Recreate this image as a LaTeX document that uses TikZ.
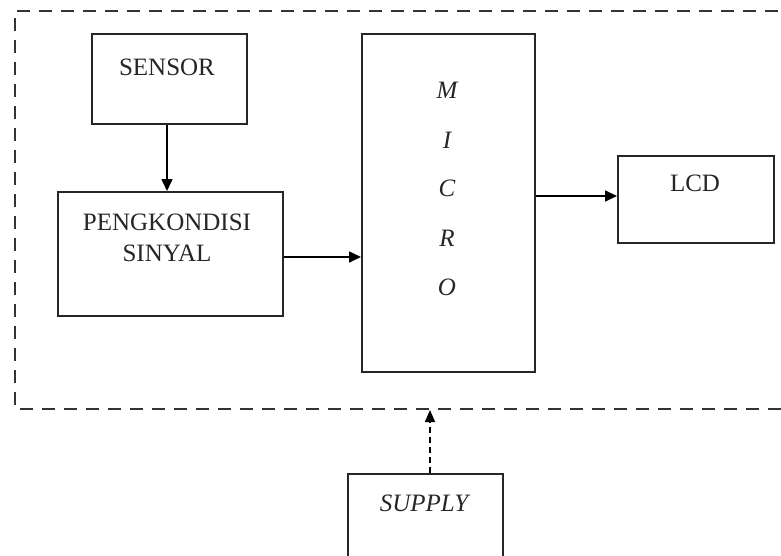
\documentclass[tikz,border=0pt]{standalone}
\usepackage{fontspec}
\setmainfont{Liberation Serif}
\usetikzlibrary{arrows.meta}
\begin{document}
\begin{tikzpicture}[x=1pt,y=-1pt,
  blk/.style={draw=black!85,line width=1.8pt,inner sep=0pt,anchor=north west},
  txt/.style={font=\fontsize{25}{30}\selectfont,inner sep=0pt,text=black!85},
  itxt/.style={font=\fontsize{25}{30}\selectfont\itshape,inner sep=0pt,text=black!85},
  conn/.style={draw=black,line width=1.6pt,-{Triangle[length=12pt,width=11pt]}},
  dconn/.style={draw=black,line width=1.6pt,dash pattern=on 6pt off 4pt,-{Triangle[length=12pt,width=10pt]}}]
\clip (0,0) rectangle (781,555);
\fill[white] (0,0) rectangle (781,555);
% dashed frame
\draw[black!80,line width=2pt,dash pattern=on 13pt off 9pt] (800,11) -- (15,11) -- (15,409) -- (800,409);
\coordinate (frameb) at (430,410);
\coordinate (sx) at (167,0);
% boxes
\node[blk,minimum width=155pt,minimum height=90pt] (sensor) at (91,33) {};
\node[blk,minimum width=225pt,minimum height=124pt] (pk) at (57,191) {};
\node[blk,minimum width=173pt,minimum height=338pt] (micro) at (361,33) {};
\node[blk,minimum width=156pt,minimum height=87pt] (lcd) at (617,155) {};
\node[blk,minimum width=155pt,minimum height=120pt] (supply) at (347,473) {};
% texts
\node[txt] (tsensor) at (167,67) {SENSOR};
\node[txt] (tpk1) at (167,222) {PENGKONDISI};
\node[txt] (tpk2) at (167,253) {SINYAL};
\node[itxt] (tm) at (447,90) {M};
\node[itxt] (ti) at (447,140) {I};
\node[itxt] (tc) at (447,188) {C};
\node[itxt] (tr) at (447,238) {R};
\node[itxt] (to) at (447,287) {O};
\node[txt] (tlcd) at (695,183) {LCD};
\node[itxt] (tsup) at (424,503) {SUPPLY};
% connectors
\draw[conn] (sensor.south -| sx) -- (pk.north -| sx);
\draw[conn] (pk.east |- 0,257) -- (micro.west |- 0,257);
\draw[conn] (micro.east |- 0,196) -- (lcd.west |- 0,196);
\draw[dconn] (supply.north -| frameb) -- (frameb);
\end{tikzpicture}
\end{document}
